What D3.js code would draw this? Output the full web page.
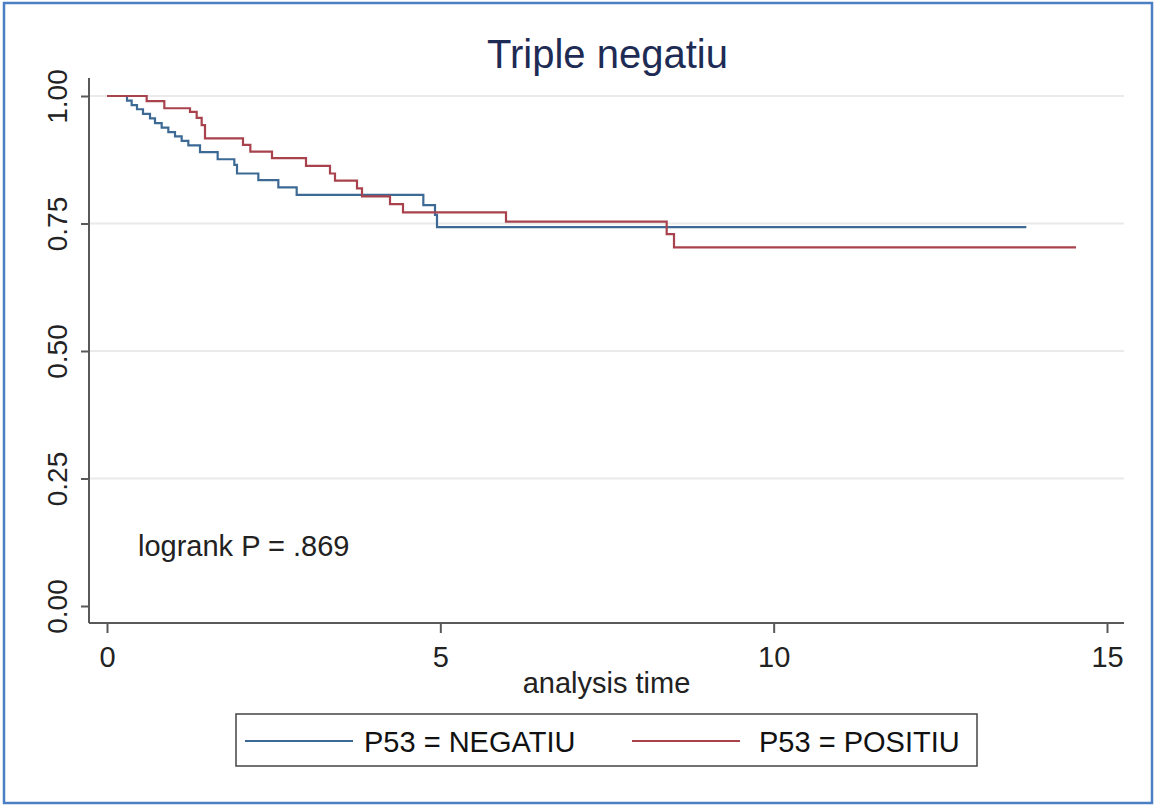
<!DOCTYPE html>
<html>
<head>
<meta charset="utf-8">
<script src="https://cdn.jsdelivr.net/npm/d3@7/dist/d3.min.js"></script>
<style>
  html, body { margin: 0; padding: 0; background: #ffffff; }
  svg { display: block; }
  text { font-family: "Liberation Sans", Arial, sans-serif; }
</style>
</head>
<body>
<svg id="chart" width="1156" height="806"></svg>
<script>
// Kaplan-Meier estimates, triple negative subgroup, by P53 status
const groupLabels = ["P53 = NEGATIU", "P53 = POSITIU"];
const negTimes = [0, 0.30, 0.37, 0.45, 0.54, 0.645, 0.72, 0.82, 0.92, 1.02, 1.12, 1.22, 1.395, 1.66, 1.91, 1.95, 2.27, 2.57, 2.845, 4.745, 4.92, 4.95, 13.79];
const negSurv  = [1, 0.991, 0.982, 0.974, 0.965, 0.956, 0.947, 0.938, 0.929, 0.921, 0.912, 0.903, 0.890, 0.876, 0.865, 0.848, 0.835, 0.821, 0.806, 0.786, 0.767, 0.743, 0.743];
const posTimes = [0, 0.595, 0.86, 1.245, 1.345, 1.42, 1.47, 2.04, 2.15, 2.475, 2.985, 3.345, 3.42, 3.75, 3.825, 4.245, 4.44, 5.985, 8.395, 8.505, 14.535];
const posSurv  = [1, 0.990, 0.976, 0.969, 0.957, 0.943, 0.917, 0.904, 0.891, 0.878, 0.863, 0.848, 0.834, 0.819, 0.803, 0.788, 0.772, 0.7535, 0.729, 0.703, 0.703];
const xTicks = [0, 5, 10, 15];
const yTicks = [0, 0.25, 0.5, 0.75, 1];
const yGrid = [0.25, 0.5, 0.75, 1];
const titleText = "Triple negatiu";
const xTitle = "analysis time";
const noteText = "logrank P = .869";

const colors = ["#3d6a94", "#a8424c"];

const svg = d3.select("#chart");
const W = 1156, H = 806;

// outer frame
svg.append("rect")
  .attr("x", 4).attr("y", 3).attr("width", W - 8).attr("height", H - 6)
  .attr("fill", "#ffffff").attr("stroke", "#4a7fc4").attr("stroke-width", 2.5);

// plot region
const plot = { left: 89, right: 1124, top: 78, bottom: 623 };
const x = d3.scaleLinear().domain([0, 15]).range([107, 1107]);
const y = d3.scaleLinear().domain([0, 1]).range([606, 96]);

// gridlines
svg.append("g").selectAll("line").data(yGrid).join("line")
  .attr("x1", plot.left).attr("x2", plot.right)
  .attr("y1", d => y(d)).attr("y2", d => y(d))
  .attr("stroke", "#eaeaea").attr("stroke-width", 2);

// y axis
const yAxis = d3.axisLeft(y).tickValues(yTicks).tickFormat(d3.format(".2f")).tickSize(8).tickSizeOuter(0);
const gy = svg.append("g").attr("transform", `translate(${plot.left},0)`).call(yAxis);
gy.select(".domain").remove();
gy.append("line").attr("x1", 0).attr("x2", 0).attr("y1", plot.top).attr("y2", plot.bottom)
  .attr("stroke", "#595959").attr("stroke-width", 2);
gy.selectAll(".tick line").attr("stroke", "#595959").attr("stroke-width", 2);
gy.selectAll(".tick text")
  .attr("x", null).attr("dy", null)
  .attr("transform", "translate(-22,0) rotate(-90)")
  .attr("text-anchor", "middle")
  .attr("font-size", 28).attr("fill", "#222");

// x axis
const xAxis = d3.axisBottom(x).tickValues(xTicks).tickFormat(d3.format("d")).tickSize(10).tickSizeOuter(0);
const gx = svg.append("g").attr("transform", `translate(0,${plot.bottom})`).call(xAxis);
gx.select(".domain").remove();
gx.append("line").attr("x1", plot.left).attr("x2", plot.right).attr("y1", 0).attr("y2", 0)
  .attr("stroke", "#595959").attr("stroke-width", 2);
gx.selectAll(".tick line").attr("stroke", "#595959").attr("stroke-width", 2);
gx.selectAll(".tick text")
  .attr("y", 44).attr("dy", null)
  .attr("font-size", 29).attr("fill", "#222");

// axis title
svg.append("text").attr("x", (plot.left + plot.right) / 2).attr("y", 693)
  .attr("text-anchor", "middle").attr("font-size", 29).attr("fill", "#222").text(xTitle);

// title
svg.append("text").attr("x", (plot.left + plot.right) / 2 + 1).attr("y", 68)
  .attr("text-anchor", "middle").attr("font-size", 40).attr("fill", "#1e2b55").text(titleText);

// survival step curves
const step = d3.line().x(d => x(d[0])).y(d => y(d[1])).curve(d3.curveStepAfter);
const series = [
  d3.zip(negTimes, negSurv),
  d3.zip(posTimes, posSurv)
];
svg.append("g").selectAll("path").data(series).join("path")
  .attr("d", step)
  .attr("fill", "none")
  .attr("stroke", (d, i) => colors[i])
  .attr("stroke-width", 2.2);

// test note
svg.append("text").attr("x", 138).attr("y", 556)
  .attr("font-size", 29).attr("fill", "#222").text(noteText);

// legend
const lg = svg.append("g");
lg.append("rect").attr("x", 236).attr("y", 714).attr("width", 741).attr("height", 52)
  .attr("fill", "#ffffff").attr("stroke", "#444").attr("stroke-width", 1.5);
const legendPos = [{ lx: 245, tx: 364 }, { lx: 632, tx: 759 }];
groupLabels.forEach((lab, i) => {
  lg.append("line").attr("x1", legendPos[i].lx).attr("x2", legendPos[i].lx + 108)
    .attr("y1", 741).attr("y2", 741)
    .attr("stroke", colors[i]).attr("stroke-width", 2.2);
  lg.append("text").attr("x", legendPos[i].tx).attr("y", 752)
    .attr("font-size", 29).attr("fill", "#111").text(lab);
});
</script>
</body>
</html>
